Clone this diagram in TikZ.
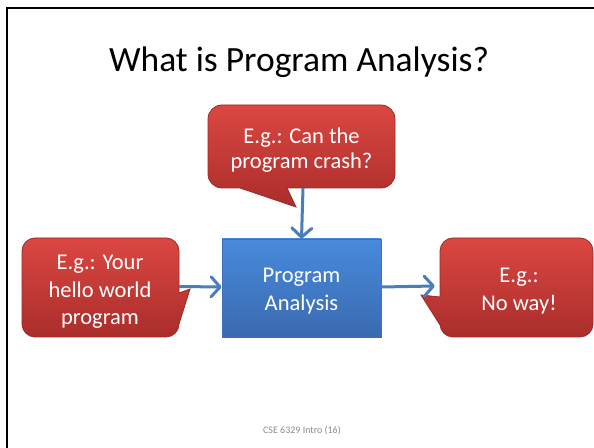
\documentclass[tikz,border=0pt]{standalone}
\usepackage{fontspec}
\setmainfont{Carlito}
\usetikzlibrary{arrows.meta}

\definecolor{bubbleTop}{RGB}{219,71,66}
\definecolor{bubbleBottom}{RGB}{170,45,42}
\definecolor{bubbleEdge}{RGB}{155,42,40}
\definecolor{coreTop}{RGB}{72,138,220}
\definecolor{coreBottom}{RGB}{58,106,176}
\definecolor{coreEdge}{RGB}{62,112,182}
\definecolor{flow}{RGB}{74,126,187}
\definecolor{footgray}{RGB}{140,140,140}

\begin{document}
\begin{tikzpicture}[x=1pt,y=1pt,
  bubble/.style={top color=bubbleTop,bottom color=bubbleBottom,draw=bubbleEdge,line width=0.8pt},
  core/.style={rectangle,top color=coreTop,bottom color=coreBottom,draw=coreEdge,line width=0.8pt},
  bodyarea/.style={rectangle,inner sep=0pt},
  words/.style={text=white,align=center,inner sep=0pt},
  flowarrow/.style={draw=flow,line width=3pt,line join=round,
    -{Straight Barb[length=9pt,width=20pt,line join=round,line cap=round]}}]

\useasboundingbox (0,0) rectangle (594,447);
\clip (0,0) rectangle (594,447);
\fill[white] (0,0) rectangle (594,447);

% slide frame
\draw[line width=2.8pt] (7,-10) -- (7,439) -- (620,439);

% title
\node[anchor=base,inner sep=0pt,font=\fontsize{35.5}{40}\selectfont] (title) at (299,375) {What is Program Analysis?};

% callout above the box
\shade[bubble] (222,342) -- (381,342) arc[start angle=90,end angle=0,radius=14pt]
  -- (395,273) arc[start angle=0,end angle=-90,radius=14pt]
  -- (287,259) -- (296,240) -- (240,259)
  -- (222,259) arc[start angle=-90,end angle=-180,radius=14pt]
  -- (208,328) arc[start angle=180,end angle=90,radius=14pt] -- cycle;
\node[bodyarea,minimum width=187pt,minimum height=83pt] (top) at (303,300.5) {};
\node[words,font=\fontsize{22.5}{25.7}\selectfont] (toptext) at (301.5,297) {E.g.: Can the\\program crash?};

% callout on the left
\shade[bubble] (35,209) -- (166,209) arc[start angle=90,end angle=0,radius=13pt]
  -- (179,154) -- (190,158) -- (179,123)
  arc[start angle=0,end angle=-90,radius=13pt]
  -- (35,110) arc[start angle=-90,end angle=-180,radius=13pt]
  -- (22,196) arc[start angle=180,end angle=90,radius=13pt] -- cycle;
\node[bodyarea,minimum width=157pt,minimum height=99pt] (left) at (100.5,159.5) {};
\node[words,font=\fontsize{22.5}{27.7}\selectfont] (lefttext) at (100,155.2) {E.g.: Your\\hello world\\program};

% callout on the right
\shade[bubble] (453,209) -- (580,209) arc[start angle=90,end angle=0,radius=13pt]
  -- (593,123) arc[start angle=0,end angle=-90,radius=13pt]
  -- (453,110) arc[start angle=-90,end angle=-180,radius=13pt]
  -- (440,122) -- (421,152) -- (440,150)
  -- (440,196) arc[start angle=180,end angle=90,radius=13pt] -- cycle;
\node[bodyarea,minimum width=153pt,minimum height=99pt] (right) at (516.5,159.5) {};
\node[words,font=\fontsize{22.5}{28.3}\selectfont] (righttext) at (519,156) {E.g.:\\No way!};

% the analysis box
\node[core,minimum width=159pt,minimum height=98pt] (core) at (301.5,159) {};
\node[words,font=\fontsize{22.5}{28.3}\selectfont] (coretext) at (301.5,156) {Program\\Analysis};

% flow arrows
\draw[flowarrow] (top.south) -- (core.north);
\draw[flowarrow] ([yshift=1pt]left.east) -- ([yshift=1pt]core.west);
\draw[flowarrow] ([yshift=1pt]core.east) -- ([xshift=-5pt,yshift=1.5pt]right.west);

% footer
\node[anchor=base,inner sep=0pt,text=footgray,font=\fontsize{10}{12}\selectfont] (footer) at (302,13.5) {CSE 6329 Intro (16)};
\end{tikzpicture}
\end{document}
